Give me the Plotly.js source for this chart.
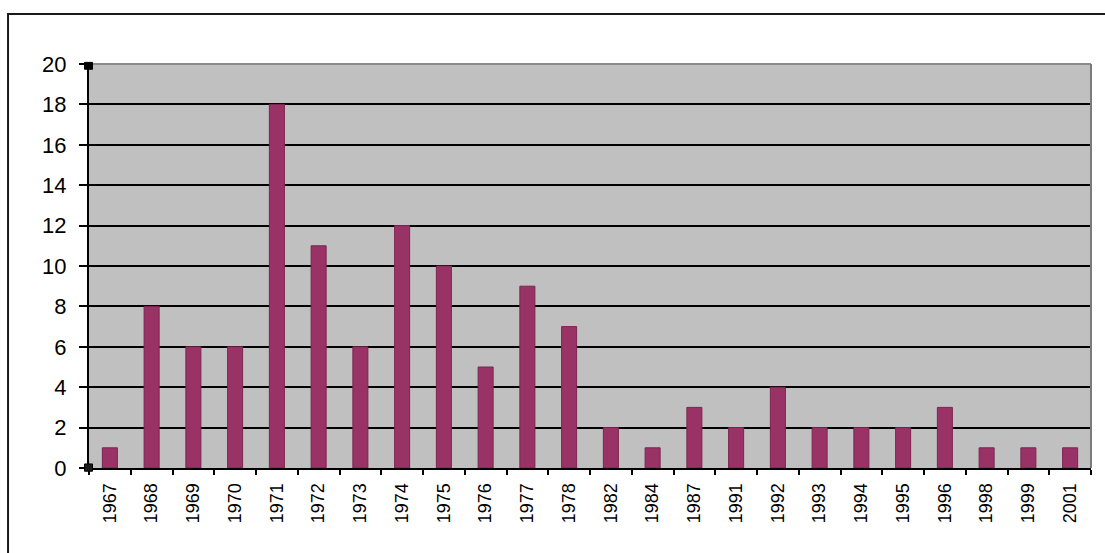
<!DOCTYPE html>
<html>
<head>
<meta charset="utf-8">
<script src="https://cdn.plot.ly/plotly-3.0.1.min.js"></script>
<style>
  html, body { margin: 0; padding: 0; background: #ffffff; }
  #chart { width: 1105px; height: 553px; }
</style>
</head>
<body>
<div id="chart"></div>
<script>
// Yearly counts
const years = ['1967', '1968', '1969', '1970', '1971', '1972', '1973', '1974', '1975', '1976', '1977', '1978',
               '1982', '1984', '1987', '1991', '1992', '1993', '1994', '1995', '1996', '1998', '1999', '2001'];
const counts = [1, 8, 6, 6, 18, 11, 6, 12, 10, 5, 9, 7,
                2, 1, 3, 2, 4, 2, 2, 2, 3, 1, 1, 1];
const yTicks = [0, 2, 4, 6, 8, 10, 12, 14, 16, 18, 20];

const trace = {
  type: 'bar',
  x: years,
  y: counts,
  marker: { color: '#993366', line: { color: '#7d2450', width: 1 } },
  hoverinfo: 'x+y'
};

const layout = {
  width: 1105,
  height: 553,
  margin: { l: 89, r: 14, t: 64, b: 85 },
  paper_bgcolor: '#ffffff',
  plot_bgcolor: '#c0c0c0',
  bargap: 0.64,
  showlegend: false,
  font: { family: 'Liberation Sans, Arial, sans-serif', color: '#000000' },
  xaxis: {
    type: 'category',
    tickson: 'boundaries',
    ticks: 'outside',
    ticklen: 5,
    tickwidth: 2,
    tickcolor: '#000000',
    tickangle: -90,
    tickfont: { size: 18, color: '#000000' },
    ticklabelstandoff: 6,
    showline: true,
    linecolor: '#000000',
    linewidth: 2,
    showgrid: false,
    zeroline: false
  },
  yaxis: {
    range: [0, 20],
    tickvals: yTicks,
    ticktext: yTicks.map(String),
    ticks: 'outside',
    ticklen: 8,
    tickwidth: 2,
    tickcolor: '#000000',
    tickfont: { size: 22, color: '#000000' },
    ticklabelstandoff: 8,
    showline: true,
    linecolor: '#000000',
    linewidth: 2,
    showgrid: true,
    gridcolor: '#000000',
    gridwidth: 2,
    zeroline: false
  },
  shapes: [
    // outer chart frame
    { type: 'rect', xref: 'paper', yref: 'paper', x0: -0.0808, x1: 1.03, y0: -0.25, y1: 1.124,
      line: { color: '#1a1a1a', width: 2 }, fillcolor: 'rgba(0,0,0,0)', layer: 'below' },
    // plot area border on the top and right
    { type: 'line', xref: 'paper', yref: 'paper', x0: 0, x1: 1, y0: 1, y1: 1,
      line: { color: '#8a8a8a', width: 2 } },
    { type: 'line', xref: 'paper', yref: 'paper', x0: 1, x1: 1, y0: 0, y1: 1,
      line: { color: '#7a7a7a', width: 2 } },
    // small handles at the axis ends
    { type: 'rect', xref: 'paper', yref: 'paper', x0: -0.0045, x1: 0.0035, y0: 0.987, y1: 1.004,
      line: { color: '#000000', width: 1 }, fillcolor: '#000000' },
    { type: 'rect', xref: 'paper', yref: 'paper', x0: -0.0045, x1: 0.0035, y0: -0.008, y1: 0.01,
      line: { color: '#000000', width: 1 }, fillcolor: '#1a1a1a' }
  ]
};

Plotly.newPlot('chart', [trace], layout, { displayModeBar: false, staticPlot: true });
</script>
</body>
</html>
